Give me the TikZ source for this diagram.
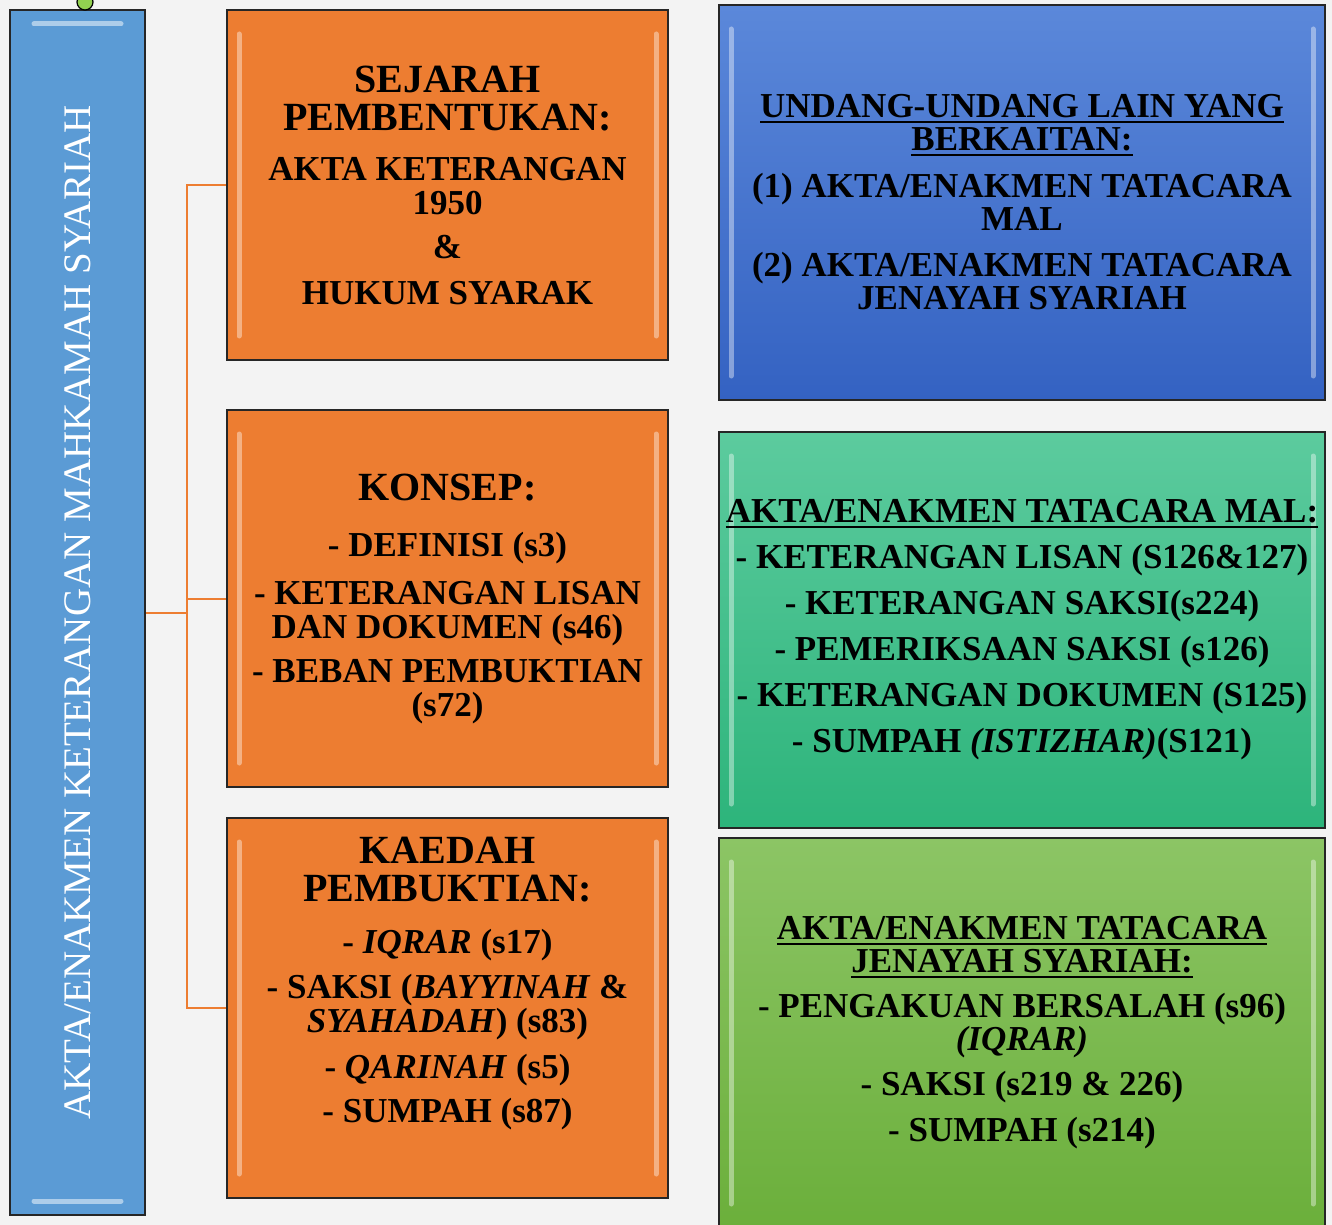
\documentclass[tikz,border=0pt]{standalone}
\usepackage{fontspec}
\setmainfont{Liberation Serif}

\definecolor{bggray}{HTML}{F3F3F3}
\definecolor{boxorange}{HTML}{ED7D31}
\definecolor{sideblue}{HTML}{5B9BD5}
\definecolor{lawtop}{HTML}{5B88DA}
\definecolor{lawbot}{HTML}{3462C2}
\definecolor{maltop}{HTML}{5CCB9E}
\definecolor{malbot}{HTML}{2DB47B}
\definecolor{crimetop}{HTML}{8CC565}
\definecolor{crimebot}{HTML}{6BAF3B}
\definecolor{handlegreen}{HTML}{92D050}

\newcommand{\headfont}{\fontsize{20}{19}\selectfont}
\newcommand{\uln}[1]{\setbox0\hbox{#1}\rlap{\rule[-2.5pt]{\wd0}{1pt}}\box0}

\tikzstyle{box} = [rectangle, align=center, draw=black!85, line width=1pt, inner sep=2pt,
	font=\fontsize{17.5}{17}\selectfont\bfseries,
	path picture={\draw[white, opacity=.4, line width=2.5pt, line cap=round]
		([shift={(6pt,-12pt)}]path picture bounding box.north west) --
		([shift={(6pt,12pt)}]path picture bounding box.south west)
		([shift={(-6pt,-12pt)}]path picture bounding box.north east) --
		([shift={(-6pt,12pt)}]path picture bounding box.south east);}]
\tikzstyle{orangebox} = [box, fill=boxorange, minimum width=220.5pt]
\tikzstyle{lawbox} = [box, top color=lawtop, bottom color=lawbot, minimum width=303pt,
	font=\fontsize{17.5}{16.5}\selectfont\bfseries]
\tikzstyle{malbox} = [box, top color=maltop, bottom color=malbot, minimum width=303pt]
\tikzstyle{crimebox} = [lawbox, top color=crimetop, bottom color=crimebot]
\tikzstyle{sidebar} = [rectangle, draw=black!85, line width=1pt, fill=sideblue, text=white,
	minimum width=67.5pt, minimum height=602.5pt, font=\fontsize{19.5}{19.5}\selectfont,
	path picture={\draw[white, opacity=.5, line width=2.5pt, line cap=round]
		([shift={(12pt,-7pt)}]path picture bounding box.north west) --
		([shift={(-12pt,-7pt)}]path picture bounding box.north east)
		([shift={(12pt,7pt)}]path picture bounding box.south west) --
		([shift={(-12pt,7pt)}]path picture bounding box.south east);}]
\tikzstyle{handle} = [circle, fill=handlegreen, draw=black, line width=0.6pt, minimum size=8pt, inner sep=0pt]
\tikzstyle{link} = [draw=boxorange, line width=1pt]

\begin{document}
\begin{tikzpicture}
	\fill[bggray] (0,0) rectangle (666pt,-612.5pt);
	\useasboundingbox (0,0) rectangle (666pt,-612.5pt);

	\node[sidebar] at (38.75pt,-306.25pt) (side) {\rotatebox{90}{AKTA/ENAKMEN KETERANGAN MAHKAMAH SYARIAH}};
	\node[handle] at (42.5pt,-1pt) (grip) {};

	\node[orangebox, minimum height=175pt] at (223.75pt,-92.5pt) (sejarah) {\headfont SEJARAH\\[2pt]\headfont PEMBENTUKAN:\\[8pt]AKTA KETERANGAN\\1950\\[5pt]\&\\[6pt]HUKUM SYARAK};
	\node[orangebox, minimum height=188.5pt] at ([yshift=-206.75pt]sejarah) (konsep) {\headfont KONSEP:\\[11pt]- DEFINISI (s3)\\[7pt]- KETERANGAN LISAN\\DAN DOKUMEN (s46)\\[5pt]- BEBAN PEMBUKTIAN\\(s72)};
	\node[orangebox, minimum height=190pt] at ([yshift=-204.75pt]konsep) (kaedah) {\headfont KAEDAH\\[2pt]\headfont PEMBUKTIAN:\\[9pt]- \textit{IQRAR} (s17)\\[5.5pt]- SAKSI (\textit{BAYYINAH} \&\\\textit{SYAHADAH}) (s83)\\[6pt]- \textit{QARINAH} (s5)\\[5pt]- SUMPAH (s87)\\[11pt]\mbox{}};

	\node[lawbox, minimum height=197.5pt] at (511pt,-101.25pt) (undang) {\uln{UNDANG-UNDANG LAIN YANG}\\\uln{BERKAITAN:}\\[7pt](1) AKTA/ENAKMEN TATACARA\\MAL\\[6.5pt](2) AKTA/ENAKMEN TATACARA\\JENAYAH SYARIAH};
	\node[malbox, minimum height=198pt] at ([yshift=-213.75pt]undang) (mal) {\uln{AKTA/ENAKMEN TATACARA MAL:}\\[6pt]- KETERANGAN LISAN (S126\&127)\\[6pt]- KETERANGAN SAKSI(s224)\\[6pt]- PEMERIKSAAN SAKSI (s126)\\[6pt]- KETERANGAN DOKUMEN (S125)\\[6pt]- SUMPAH \textit{(ISTIZHAR)}(S121)};
	\node[crimebox, minimum height=195pt] at ([yshift=-201.5pt]mal) (jenayah) {\uln{AKTA/ENAKMEN TATACARA}\\\uln{JENAYAH SYARIAH:}\\[6pt]- PENGAKUAN BERSALAH (s96)\\\textit{(IQRAR)}\\[6pt]- SAKSI (s219 \& 226)\\[6.5pt]- SUMPAH (s214)};

	\coordinate (hub) at ([xshift=20.5pt]side.east);
	\draw[link] (side.east) -- (hub);
	\foreach \b in {sejarah, konsep, kaedah}{
		\draw[link] (hub) |- (\b.west);
	}
\end{tikzpicture}
\end{document}
